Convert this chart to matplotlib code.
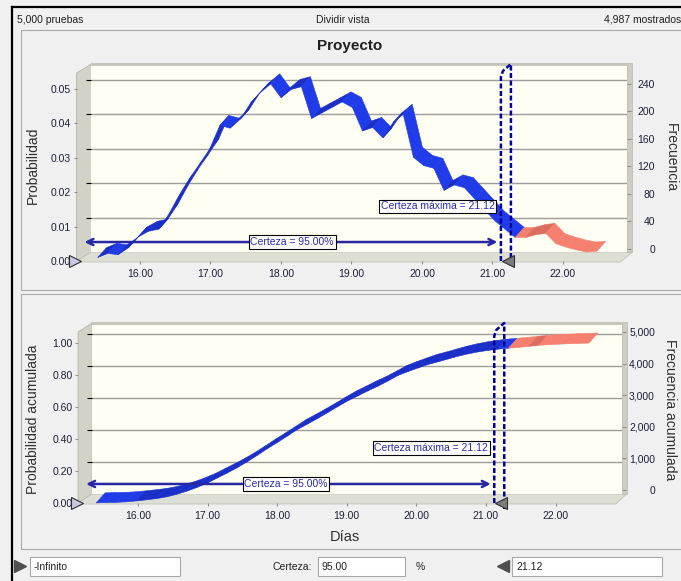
import numpy as np
import matplotlib
matplotlib.use('Agg')
import matplotlib.pyplot as plt
from matplotlib.patches import Polygon, Rectangle
from matplotlib.ticker import FuncFormatter
import matplotlib.transforms as mtransforms

plt.rcParams['font.family'] = ['Liberation Sans', 'DejaVu Sans']

# ---- datos del pronostico ----
pruebas = 5000
mostrados = 4987
certeza = 95.00
certeza_max = 21.12

# centros de clase (dias) y frecuencia de cada clase
dias = np.linspace(15.40, 22.48, 50)
frecuencia = np.array([
    5, 11, 9, 19, 35, 43, 46, 68, 95, 119,
    140, 162, 196, 192, 205, 228, 244, 256, 236, 248,
    252, 206, 214, 222, 230, 222, 188, 193, 178, 200,
    212, 150, 138, 134, 102, 110, 106, 90, 74, 58,
    46, 34, 34, 38, 40, 25, 20, 16, 13, 14])

probabilidad = frecuencia / mostrados
prob_acumulada = np.cumsum(frecuencia) / frecuencia.sum()

ticks_dias = [16, 17, 18, 19, 20, 21, 22]
ticks_prob = [0.00, 0.01, 0.02, 0.03, 0.04, 0.05]
ticks_frec = [0, 40, 80, 120, 160, 200, 240]
ticks_acum = [0.0, 0.2, 0.4, 0.6, 0.8, 1.0]
ticks_frec_acum = [0, 1000, 2000, 3000, 4000, 5000]

# colores
AZUL = ('#1f3ce8', '#1a2ec8')
ROJO = ('#f6806f', '#dc6e60')
TEXTO = '#1e1e3c'

W, H = 681, 581
fig = plt.figure(figsize=(W / 100, H / 100), dpi=100)
fig.patch.set_facecolor('#f0f0f0')


def caja(x0, y0, x1, y1):
    # rectangulo en pixeles (origen arriba a la izquierda) -> fraccion de figura
    return [x0 / W, 1 - y1 / H, (x1 - x0) / W, (y1 - y0) / H]


def escala(ax):
    (a, b), (c, d) = ax.get_xlim(), ax.get_ylim()
    return ax.bbox.width / (b - a), ax.bbox.height / (d - c)


fondo = fig.add_axes([0, 0, 1, 1])
fondo.set_xlim(0, W)
fondo.set_ylim(H, 0)
fondo.axis('off')

# marco de la ventana y paneles
fondo.add_patch(Rectangle((21, 30), 700, 260, fc='#f0f0f0', ec='#a8a8a8', lw=0.8))
fondo.add_patch(Rectangle((21, 294), 700, 255, fc='#f0f0f0', ec='#a8a8a8', lw=0.8))
fondo.plot([12, 12], [7, H], color='black', lw=1.6)
fondo.plot([12, W], [7, 7], color='black', lw=1.6)

fondo.text(17, 20, f'{pruebas:,} pruebas', fontsize=7.5, va='center', color='#202020')
fondo.text(343, 20, 'Dividir vista', fontsize=7.5, va='center', ha='center', color='#202020')
fondo.text(681, 20, f'{mostrados:,} mostrados', fontsize=7.5, va='center', ha='right',
           color='#202020')
fondo.text(350, 46, 'Proyecto', fontsize=11, fontweight='bold', ha='center', va='center',
           color='#202020')


def cinta(ax, x, y, prof=(9, 10)):
    # linea 3D: cada tramo es un cuadrilatero entre la linea y su copia en profundidad
    sx, sy = escala(ax)
    ddx, ddy = prof[0] / sx, prof[1] / sy
    ancho = x[1] - x[0]
    for i in range(len(x) - 1):
        a, b = (x[i], y[i]), (x[i + 1], y[i + 1])
        quad = [a, b, (b[0] + ddx, b[1] + ddy), (a[0] + ddx, a[1] + ddy)]
        tonos = AZUL if x[i] - ancho / 2 <= certeza_max else ROJO
        c = tonos[1] if (b[1] - a[1]) * sy > 1.0 else tonos[0]
        ax.add_patch(Polygon(quad, fc=c, ec=c, lw=0.4, zorder=3, clip_on=False))


def grafica(x0, x1, yt, yb, dx, dy, lim_x, lim_y, lim_der, valores,
            ticks_izq, fmt_izq, ticks_der, fmt_der, y_flecha, y_maxima, x_cert):
    # pared izquierda, piso y canto derecho
    fondo.add_patch(Polygon([(x0, yt), (x0 + dx, yt - dy), (x0 + dx, yb - dy), (x0, yb)],
                            fc='#d2d2c6', ec='#b4b4aa', lw=0.6))
    fondo.add_patch(Polygon([(x0, yb), (x0 + dx, yb - dy), (x1 + dx + 5, yb - dy),
                             (x1 + 8, yb + 1), (x0, yb + 1)],
                            fc='#dedfd4', ec='#c2c2b8', lw=0.6))
    fondo.add_patch(Rectangle((x1 + dx, yt - dy - 1.5), 5, yb - yt + 1.5,
                              fc='#cdcdc3', ec='#b8b8ae', lw=0.5))

    # pared del fondo con lineas de division
    atras = fig.add_axes(caja(x0 + dx, yt - dy, x1 + dx, yb - dy))
    atras.set_facecolor('#fefef2')
    atras.set_xlim(lim_x)
    atras.set_ylim(lim_y)
    atras.set_yticks(ticks_izq[1:])
    atras.grid(axis='y', color='#9c9c9c', lw=1.0)
    atras.tick_params(left=False, labelleft=False, bottom=False, labelbottom=False)
    atras.spines['left'].set_visible(False)
    atras.spines['bottom'].set_visible(False)
    atras.spines['right'].set_visible(False)
    atras.spines['top'].set_color('#c6c6bc')
    atras.spines['top'].set_linewidth(2.2)

    # eje derecho de frecuencia
    der = atras.twinx()
    der.set_ylim(lim_der)
    der.set_yticks(ticks_der)
    der.yaxis.set_major_formatter(FuncFormatter(fmt_der))
    pad = (655 - (x1 + dx) - 4.2) * 0.72
    der.tick_params(axis='y', length=3, color='#909090', labelsize=7.5,
                    labelcolor=TEXTO, pad=pad)
    plt.setp(der.get_yticklabels(), ha='right')
    for s in der.spines.values():
        s.set_visible(False)

    # cara frontal con los datos
    ax = fig.add_axes(caja(x0, yt, x1, yb))
    ax.patch.set_visible(False)
    for s in ax.spines.values():
        s.set_visible(False)
    ax.set_xlim(lim_x)
    ax.set_ylim(lim_y)
    ax.set_xticks(ticks_dias)
    ax.xaxis.set_major_formatter(FuncFormatter(lambda v, p: f'{v:.2f}'))
    ax.set_yticks(ticks_izq)
    ax.yaxis.set_major_formatter(FuncFormatter(fmt_izq))
    ax.tick_params(length=2.5, color='#909090', labelsize=7.5, labelcolor=TEXTO, pad=1.5)
    ax.tick_params(axis='x', pad=3.5)

    cinta(ax, dias, valores)

    sx, sy = escala(ax)
    # rango de certeza
    ax.annotate('', xy=(lim_x[0] + 8 / sx, y_flecha), xytext=(certeza_max - 0.05, y_flecha),
                arrowprops=dict(arrowstyle='<->', color='#2828a4', lw=1.8,
                                mutation_scale=11, shrinkA=0, shrinkB=0), zorder=5)
    ax.text(x_cert, y_flecha, f'Certeza = {certeza:.2f}%', ha='center', va='center',
            fontsize=7.5, color='#2a2ab4', zorder=6,
            bbox=dict(boxstyle='square,pad=0.15', fc='white', ec='black', lw=0.8))
    ax.text(certeza_max - 0.09, y_maxima, f'Certeza máxima = {certeza_max:.2f}',
            ha='right', va='center', fontsize=7.5, color='#2a2ab4', zorder=6,
            bbox=dict(boxstyle='square,pad=0.15', fc='white', ec='black', lw=0.8))

    # asa punteada del limite superior
    h = yb - yt
    px = np.array([0, 0, 2, 10, 10])
    py = np.array([0, h - 4, h + 2, h + dy, -6])
    ax.plot(certeza_max + px / sx, py / sy, color='#0000a0', lw=1.8,
            ls=(0, (2, 1)), zorder=7, clip_on=False)

    # marcadores de los limites
    desp = mtransforms.offset_copy(ax.transData, fig=fig, x=-1.5, y=0, units='dots')
    ax.plot(lim_x[0], 0, marker='>', ms=9, mfc='#c8c8e2', mec='#303030', mew=0.8,
            transform=desp, clip_on=False, zorder=8)
    desp = mtransforms.offset_copy(ax.transData, fig=fig, x=7, y=0, units='dots')
    ax.plot(certeza_max, 0, marker='<', ms=9, mfc='#7c7c7c', mec='#303030', mew=0.8,
            transform=desp, clip_on=False, zorder=8)
    return ax


grafica(76.5, 612.3, 73, 261, 15, 9, (15.1, 22.7), (0, 0.0545), (-4.4, 268.3),
        probabilidad, ticks_prob, lambda v, p: f'{v:.2f}',
        ticks_frec, lambda v, p: f'{v:.0f}', 0.0055, 0.0159, 18.16)

grafica(78.1, 607.7, 332, 503, 14, 9, (15.14, 22.75), (0, 1.069), (-126.6, 5284.8),
        prob_acumulada, ticks_acum, lambda v, p: f'{v:.2f}',
        ticks_frec_acum, lambda v, p: f'{v:,.0f}', 0.119, 0.344, 18.13)

# titulos de ejes
fondo.text(33, 165, 'Probabilidad', rotation=90, fontsize=10, ha='center', va='center',
           color='#303030')
fondo.text(33, 419, 'Probabilidad acumulada', rotation=90, fontsize=10, ha='center',
           va='center', color='#303030')
fondo.text(671, 158, 'Frecuencia', rotation=270, fontsize=10, ha='center', va='center',
           color='#303030')
fondo.text(670, 410, 'Frecuencia acumulada', rotation=270, fontsize=10, ha='center',
           va='center', color='#303030')
fondo.text(345, 537, 'Días', fontsize=10.5, ha='center', va='center', color='#303030')

# barra de control inferior
fondo.plot(20, 566, marker='>', ms=8, color='#505050')
fondo.add_patch(Rectangle((30, 557), 150, 19, fc='white', ec='#a8a8a8', lw=0.8))
fondo.text(34, 566.5, '-Infinito', fontsize=7.5, va='center', color='#202020')
fondo.text(312, 566.5, 'Certeza:', fontsize=7.5, va='center', ha='right', color='#202020')
fondo.add_patch(Rectangle((318, 557), 87, 19, fc='white', ec='#a8a8a8', lw=0.8))
fondo.text(322, 566.5, f'{certeza:.2f}', fontsize=7.5, va='center', color='#202020')
fondo.text(420, 566.5, '%', fontsize=7.5, va='center', ha='center', color='#202020')
fondo.plot(503, 566, marker='<', ms=8, color='#505050')
fondo.add_patch(Rectangle((512, 557), 150, 19, fc='white', ec='#a8a8a8', lw=0.8))
fondo.text(516, 566.5, f'{certeza_max:.2f}', fontsize=7.5, va='center', color='#202020')

fig.savefig('out.png', dpi=100, facecolor=fig.get_facecolor())
